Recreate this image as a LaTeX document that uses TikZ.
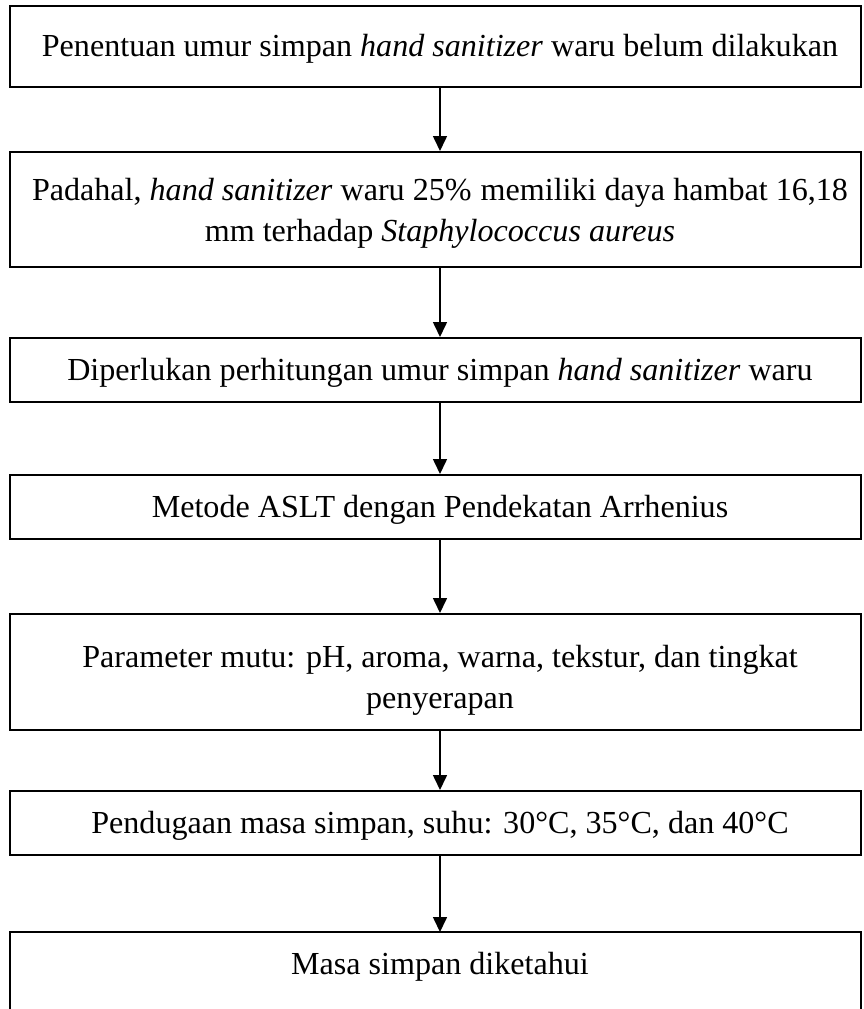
\documentclass[tikz,border=0pt]{standalone}
\usepackage{fontspec}
\setmainfont{Liberation Serif}
\usetikzlibrary{arrows.meta}
\begin{document}
\begin{tikzpicture}[x=1pt,y=-1pt,
  frame/.style={draw, line width=2pt, minimum width=851pt, inner sep=0pt},
  txt/.style={inner sep=0pt, align=center, font=\fontsize{32.1}{41}\selectfont},
  flow/.style={-{Triangle[length=15pt,width=14pt]}, line width=1.6pt}]
\useasboundingbox (0,0) rectangle (863,1009);
% frames of the steps
\node[frame, minimum height=81pt]  (b1) at (435.5,46.5) {};
\node[frame, minimum height=115pt] (b2) at (435.5,209.5) {};
\node[frame, minimum height=64pt]  (b3) at (435.5,370) {};
\node[frame, minimum height=64pt]  (b4) at (435.5,507) {};
\node[frame, minimum height=116pt] (b5) at (435.5,672) {};
\node[frame, minimum height=64pt]  (b6) at (435.5,823) {};
% last step: open at the bottom
\coordinate (b7nw) at (10,932);
\coordinate (b7ne) at (861,932);
\draw[line width=2pt] (b7nw |- 0,1012) -- (b7nw) -- (b7ne) -- (b7ne |- 0,1012);
% texts, set a little right of and below the frame centres
\node[txt] (t1) at ([xshift=4.5pt,yshift=-2.5pt]b1.center) {Penentuan umur simpan \textit{hand sanitizer} waru belum dilakukan};
\node[txt] (t2) at ([xshift=4.5pt,yshift=-4pt]b2.center) {Padahal, \textit{hand sanitizer} waru 25\%\hspace{1pt} memiliki daya hambat 16,18\\mm terhadap \textit{Staphylococcus aureus}};
\node[txt] (t3) at ([xshift=4.5pt,yshift=-2.5pt]b3.center) {Diperlukan perhitungan umur simpan \textit{hand sanitizer} waru};
\node[txt] (t4) at ([xshift=4.5pt,yshift=-2.5pt]b4.center) {Metode ASLT dengan Pendekatan Arrhenius};
\node[txt] (t5) at ([xshift=4.5pt,yshift=-8pt]b5.center) {Parameter mutu: pH, aroma, warna, tekstur, dan tingkat\\penyerapan};
\node[txt] (t6) at ([xshift=4.5pt,yshift=-2.5pt]b6.center) {Pendugaan masa simpan, suhu: 30°C, 35°C, dan 40°C};
\node[txt] (t7) at (440,967) {Masa simpan diketahui};
% connectors
\draw[flow] (b1.south -| t1) -- (b2.north -| t2);
\draw[flow] (b2.south -| t2) -- (b3.north -| t3);
\draw[flow] (b3.south -| t3) -- (b4.north -| t4);
\draw[flow] (b4.south -| t4) -- (b5.north -| t5);
\draw[flow] (b5.south -| t5) -- (b6.north -| t6);
\draw[flow] (b6.south -| t6) -- (b7nw -| t7);
\end{tikzpicture}
\end{document}
